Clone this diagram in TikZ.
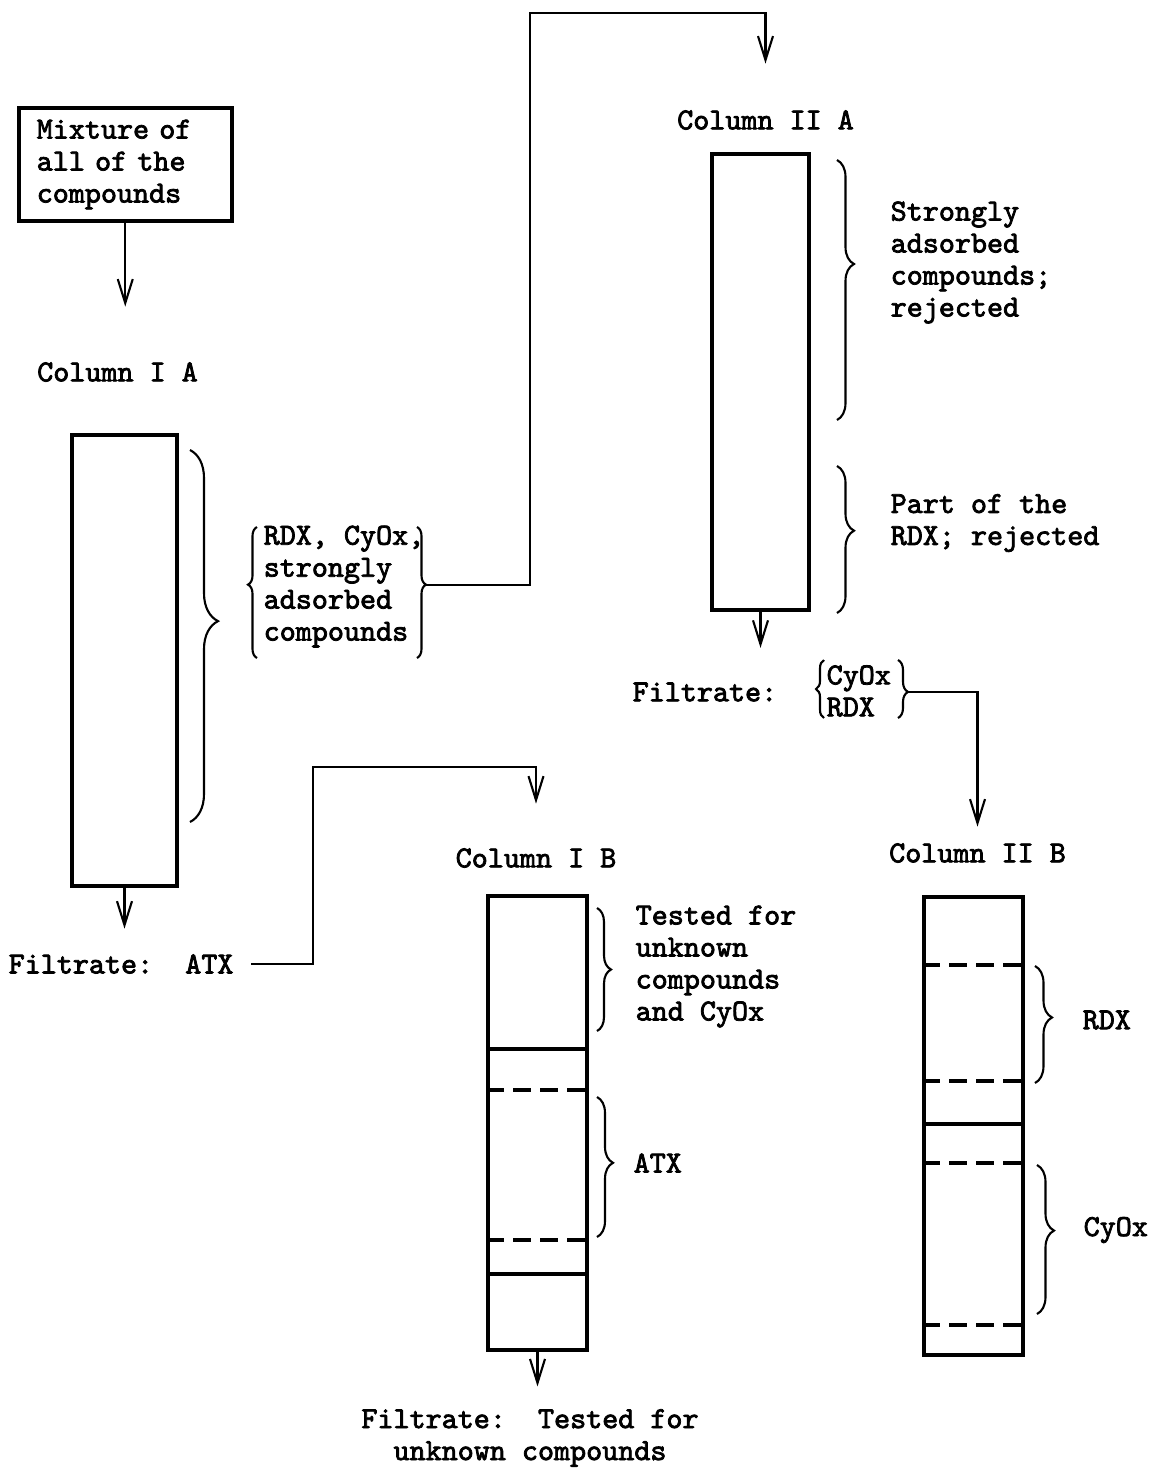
\documentclass[tikz,border=0pt]{standalone}
\usepackage{fontspec}
\setmonofont{lmmono10-regular.otf}[AutoFakeBold=2.5]
\usepackage{tikz}
\usetikzlibrary{arrows.meta, positioning, calc, decorations.pathreplacing}

\tikzset{
  lbl/.style={font=\ttfamily\bfseries\fontsize{8.7}{9.1}\selectfont, inner sep=0pt, align=left},
  colbox/.style={draw, line width=1pt, inner sep=0pt},
  flow/.style={semithick, -{Straight Barb[length=2.4mm,width=1.5mm]}},
  curly/.style={decorate, decoration={brace, amplitude=#1}, semithick},
  curly/.default=1.5mm,
  band/.style={line width=1pt, dash pattern=on 1.8mm off 0.9mm},
}

\begin{document}
\begin{tikzpicture}[x=1cm, y=-1cm]
        \useasboundingbox (0,0) rectangle (11.53,14.69);

        % Starting mixture
        \node[lbl, draw, line width=1pt, anchor=west, inner xsep=0.18cm, text width=1.77cm, minimum height=1.13cm] (mix) at (0.17,1.645) {Mixture of\\all of the\\compounds};

        % Column I A
        \node[lbl] (lblIA) at (1.175,3.72) {Column I A};
        \node[colbox, minimum width=1.05cm, minimum height=4.51cm] (colIA) at (1.245,6.605) {};
        \draw[curly=2.8mm, decoration={aspect=0.46}] (1.90,4.50) -- (1.90,8.22);
        \node[lbl, anchor=west] (filtA) at (0.08,9.64) {Filtrate:\ \ ATX};
        \draw[flow, shorten >=0.55cm] (mix.south) -- (mix.south |- lblIA.north);
        \draw[flow, shorten >=0.25cm] (colIA.south) -- (colIA.south |- filtA.north);

        % strongly adsorbed part of I A
        \node[lbl, anchor=west] (grpIA) at (2.63,5.865) {RDX, CyOx,\\strongly\\adsorbed\\compounds};
        \draw[curly=0.9mm, decoration={aspect=0.56}] (2.57,6.58) -- (2.57,5.27);
        \draw[curly=0.9mm, decoration={aspect=0.44}] (4.17,5.27) -- (4.17,6.58);
        \coordinate (grpTip) at (4.26,5.85);

        % Column II A
        \node[lbl] (lblIIA) at (7.655,1.20) {Column II A};
        \node[colbox, minimum width=0.97cm, minimum height=4.56cm] (colIIA) at (7.605,3.82) {};
        \draw[flow, shorten >=0.46cm] (grpTip) -| (5.30,0.13) -| (lblIIA.north);
        \draw[curly=1.7mm, decoration={aspect=0.4}] (8.37,1.60) -- (8.37,4.20);
        \node[lbl, anchor=west] (rejIIA) at (8.90,2.625) {Strongly\\adsorbed\\compounds;\\rejected};
        \draw[curly=1.7mm, decoration={aspect=0.44}] (8.37,4.66) -- (8.37,6.13);
        \node[lbl, anchor=west] (partIIA) at (8.90,5.23) {Part of the\\RDX; rejected};

        % Filtrate of II A
        \node[lbl, anchor=west] (filtII) at (6.32,6.92) {Filtrate:};
        \draw[flow, shorten >=0.34cm] (colIIA.south) -- (colIIA.south |- filtII.north);
        \node[lbl, anchor=west] (grpII) at (8.26,6.91) {CyOx\\RDX};
        \draw[curly=0.8mm, decoration={aspect=0.5}] (8.24,7.18) -- (8.24,6.60);
        \draw[curly=1mm, decoration={aspect=0.55}] (8.98,6.60) -- (8.98,7.18);
        \coordinate (fil2Tip) at (9.08,6.92);

        % Column I B
        \node[lbl] (lblIB) at (5.36,8.58) {Column I B};
        \node[colbox, minimum width=0.99cm, minimum height=4.54cm] (colIB) at (5.375,11.23) {};
        \draw[flow, shorten >=0.44cm] ([xshift=1.7mm]filtA.east) -| (3.13,7.67) -| (lblIB.north);
        \foreach \y in {10.49,12.74}
            \draw[line width=1pt] (colIB.west |- 0,\y) -- (colIB.east |- 0,\y);
        \foreach \y in {10.90,12.40}
            \draw[band] (colIB.west |- 0,\y) -- (colIB.east |- 0,\y);
        \draw[curly=1.4mm] (5.97,9.08) -- (5.97,10.31);
        \node[lbl, anchor=west] (testIB) at (6.35,9.665) {Tested for\\unknown\\compounds\\and CyOx};
        \draw[curly=1.6mm, decoration={aspect=0.47}] (5.97,10.97) -- (5.97,12.37);
        \node[lbl, anchor=west] (atxIB) at (6.33,11.63) {ATX};
        \node[lbl, align=center] (filtB) at (5.30,14.38) {Filtrate:\ \ Tested for\\unknown compounds};
        \draw[flow, shorten >=0.22cm] (colIB.south) -- (colIB.south |- filtB.north);

        % Column II B
        \node[lbl] (lblIIB) at (9.775,8.53) {Column II B};
        \node[colbox, minimum width=0.99cm, minimum height=4.58cm] (colIIB) at (9.735,11.26) {};
        \draw[flow, shorten >=0.16cm] (fil2Tip) -| (lblIIB.north);
        \draw[line width=1pt] (colIIB.west |- 0,11.24) -- (colIIB.east |- 0,11.24);
        \foreach \y in {9.65,10.81,11.63,13.25}
            \draw[band] (colIIB.west |- 0,\y) -- (colIIB.east |- 0,\y);
        \draw[curly=1.7mm, decoration={aspect=0.44}] (10.35,9.66) -- (10.35,10.83);
        \node[lbl, anchor=west] (rdxIIB) at (10.82,10.20) {RDX};
        \draw[curly=1.7mm, decoration={aspect=0.44}] (10.37,11.65) -- (10.37,13.14);
        \node[lbl, anchor=west] (cyoxIIB) at (10.83,12.30) {CyOx};
    \end{tikzpicture}
\end{document}
